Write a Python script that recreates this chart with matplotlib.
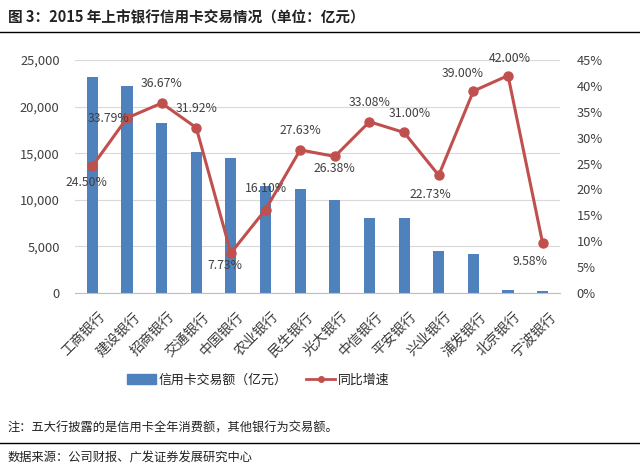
import matplotlib
matplotlib.use("Agg")
import matplotlib.pyplot as plt
import matplotlib.transforms as mtrans
from matplotlib.ticker import FuncFormatter, MultipleLocator
from matplotlib.lines import Line2D

plt.rcParams['font.family'] = ['Noto Sans CJK SC', 'DejaVu Sans']

banks = ["工商银行", "建设银行", "招商银行", "交通银行", "中国银行", "农业银行", "民生银行",
         "光大银行", "中信银行", "平安银行", "兴业银行", "浦发银行", "北京银行", "宁波银行"]
volume = [23200, 22200, 18200, 15150, 14450, 11500, 11200,
          10000, 8100, 8100, 4500, 4200, 350, 250]
growth = [24.50, 33.79, 36.67, 31.92, 7.73, 16.10, 27.63,
          26.38, 33.08, 31.00, 22.73, 39.00, 42.00, 9.58]

# label offsets in points (dx, dy) for each growth label
label_off = [(-4, -12), (-13, 0), (0, 14), (0, 14), (-4, -9), (0, 15), (0, 14),
             (0, -9), (0, 14), (4, 14), (-6, -14), (-8, 13), (1, 12), (-9, -13)]

BAR = "#4F81BD"
LINE = "#C0504D"
TXT = "#404040"

fig = plt.figure(figsize=(6.4, 4.73), dpi=100)
ax = fig.add_axes([75/640, 1-293/473, 485/640, 233/473])
ax2 = ax.twinx()

x = list(range(len(banks)))
ax.bar(x, volume, width=0.32, color=BAR, zorder=2)
ax.set_xlim(-0.5, len(banks) - 0.5)
ax.set_ylim(0, 25000)
ax.yaxis.set_major_locator(MultipleLocator(5000))
ax.yaxis.set_major_formatter(FuncFormatter(lambda v, p: "{:,.0f}".format(v)))
ax.grid(axis="y", color="#D9D9D9", lw=0.8, zorder=0)
ax.set_axisbelow(True)
for s in ["top", "left", "right"]:
    ax.spines[s].set_visible(False)
ax.spines["bottom"].set_color("#BFBFBF")
ax.tick_params(axis="y", length=0, labelsize=9.3, colors=TXT, pad=11)
ax.tick_params(axis="x", length=0, labelsize=10, colors="#3a3a3a", pad=12)
ax.set_xticks(x)
ax.set_xticklabels(banks, rotation=45, ha="right", va="top", rotation_mode="anchor")
shift = mtrans.ScaledTranslation(4/72, 0, fig.dpi_scale_trans)
for lab in ax.get_xticklabels():
    lab.set_transform(lab.get_transform() + shift)

ax2.plot(x, growth, color=LINE, lw=2.2, marker="o", ms=6.5, zorder=3)
ax2.set_ylim(0, 45)
ax2.yaxis.set_major_locator(MultipleLocator(5))
ax2.yaxis.set_major_formatter(FuncFormatter(lambda v, p: "{:.0f}%".format(v)))
for s in ["top", "left", "right", "bottom"]:
    ax2.spines[s].set_visible(False)
ax2.tick_params(axis="y", length=0, labelsize=9.3, colors=TXT, pad=12)

for xi, g, (dx, dy) in zip(x, growth, label_off):
    ax2.annotate("{:.2f}%".format(g), (xi, g), xytext=(dx, dy), textcoords="offset points",
                 ha="center", va="center", fontsize=8.8, color=TXT, zorder=4)

handles = [plt.Rectangle((0, 0), 1, 1, color=BAR),
           Line2D([0], [0], color=LINE, lw=2, marker="o", ms=4)]
fig.legend(handles, ["信用卡交易额（亿元）", "同比增速"], loc="center",
           bbox_to_anchor=(258/640, 1-380/473), ncol=2, frameon=False, fontsize=9.3,
           handlelength=2.3, columnspacing=1.4, handletextpad=0.2, labelcolor="#222222")

fig.text(0.012, 1-17/473, "图 3：2015 年上市银行信用卡交易情况（单位：亿元）",
         fontsize=10.5, fontweight="bold", va="center", color="#222222")
fig.add_artist(Line2D([0, 1], [1-32/473, 1-32/473], color="black", lw=1))
fig.text(0.012, 1-428/473, "注：五大行披露的是信用卡全年消费额，其他银行为交易额。",
         fontsize=8.8, va="center", color="#222222")
fig.add_artist(Line2D([0, 1], [1-443/473, 1-443/473], color="black", lw=1))
fig.text(0.012, 1-458/473, "数据来源：公司财报、广发证券发展研究中心",
         fontsize=8.8, va="center", color="#222222")

fig.savefig("out.png", dpi=100)
